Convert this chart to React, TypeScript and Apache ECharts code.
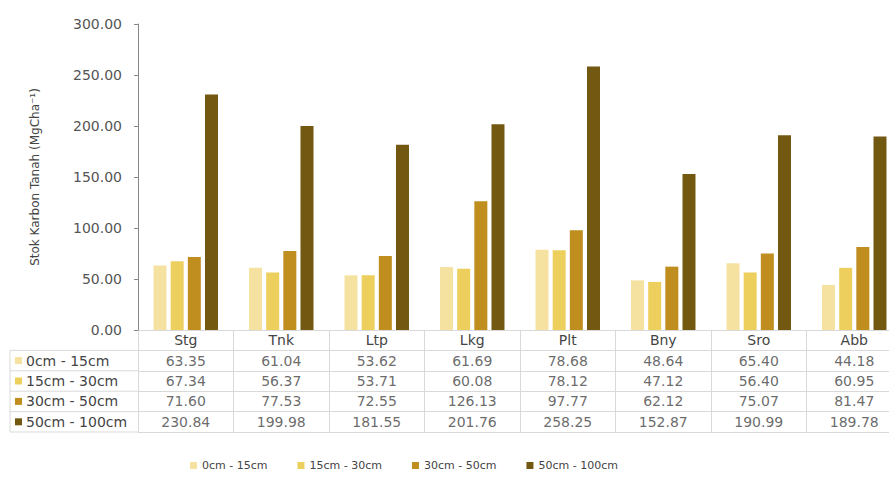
import React, { useEffect, useRef } from "react";
import * as echarts from "echarts";

const categories = ["Stg", "Tnk", "Ltp", "Lkg", "Plt", "Bny", "Sro", "Abb"];
const seriesNames = ["0cm - 15cm", "15cm - 30cm", "30cm - 50cm", "50cm - 100cm"];
const depth0_15 = [63.35, 61.04, 53.62, 61.69, 78.68, 48.64, 65.4, 44.18];
const depth15_30 = [67.34, 56.37, 53.71, 60.08, 78.12, 47.12, 56.4, 60.95];
const depth30_50 = [71.6, 77.53, 72.55, 126.13, 97.77, 62.12, 75.07, 81.47];
const depth50_100 = [230.84, 199.98, 181.55, 201.76, 258.25, 152.87, 190.99, 189.78];
const seriesValues = [depth0_15, depth15_30, depth30_50, depth50_100];
const colors = ["#F5E2A0", "#EDCF5E", "#BF8E1E", "#735812"];
const yTicks = { min: 0, max: 300, interval: 50 };

const FONT = "DejaVu Sans";
const TEXT = "#444";
const LINE = "#d9d9d9";

// layout
const VIEW_W = 889;
const VIEW_H = 485;
const CANVAS_W = 940;
const PLOT_LEFT = 138;
const PLOT_TOP = 24;
const PLOT_BOTTOM = 330;
const PLOT_WIDTH = 764;
const TABLE_HEIGHT = 102;
const TABLE_LEFT = 10;

export default function App() {
  const ref = useRef<HTMLDivElement>(null);
  useEffect(() => {
    if (!ref.current) return;
    const chart = echarts.init(ref.current, null, { renderer: "svg" });
    const rowNames = ["", ...seriesNames];
    const rowH = TABLE_HEIGHT / rowNames.length;

    const rich: any = {};
    seriesNames.forEach((_, i) => {
      rich["sq" + i] = { width: 7, height: 7, backgroundColor: colors[i] };
    });
    rich.t = { fontFamily: FONT, fontSize: 14, color: TEXT, padding: [0, 0, 0, 4] };

    const barSeries = seriesNames.map((name, i) => ({
      name,
      type: "bar",
      xAxisIndex: 0,
      yAxisIndex: 0,
      barWidth: 13,
      barGap: "32%",
      data: seriesValues[i],
      itemStyle: { color: colors[i] },
    }));

    const tableSeries = seriesNames.map((name, i) => ({
      name: "tbl-" + name,
      type: "scatter",
      xAxisIndex: 1,
      yAxisIndex: 1,
      symbolSize: 0,
      silent: true,
      data: seriesValues[i].map((v, c) => [c, i + 1, v]),
      label: {
        show: true,
        position: "inside",
        formatter: (p: any) => Number(p.value[2]).toFixed(2),
        fontFamily: FONT,
        fontSize: 14,
        color: TEXT,
      },
    }));

    const graphics: any[] = [];
    const firstRowTop = PLOT_BOTTOM + rowH;
    graphics.push({
      type: "line",
      shape: { x1: TABLE_LEFT, y1: firstRowTop, x2: TABLE_LEFT, y2: PLOT_BOTTOM + TABLE_HEIGHT },
      style: { stroke: LINE, lineWidth: 1 },
      silent: true,
    });
    for (let r = 1; r <= rowNames.length; r++) {
      const y = PLOT_BOTTOM + rowH * r;
      graphics.push({
        type: "line",
        shape: { x1: TABLE_LEFT, y1: y, x2: PLOT_LEFT, y2: y },
        style: { stroke: LINE, lineWidth: 1 },
        silent: true,
      });
    }

    chart.setOption({
      animation: false,
      backgroundColor: "#fff",
      textStyle: { fontFamily: FONT },
      grid: [
        { left: PLOT_LEFT, top: PLOT_TOP, width: PLOT_WIDTH, height: PLOT_BOTTOM - PLOT_TOP },
        { left: PLOT_LEFT, top: PLOT_BOTTOM, width: PLOT_WIDTH, height: TABLE_HEIGHT },
      ],
      xAxis: [
        {
          type: "category",
          gridIndex: 0,
          data: categories,
          axisLine: { show: false },
          axisTick: { show: false },
          axisLabel: { margin: 3, fontFamily: FONT, fontSize: 14, color: TEXT },
        },
        {
          type: "category",
          gridIndex: 1,
          data: categories,
          axisLine: { show: false },
          axisTick: { show: false },
          axisLabel: { show: false },
          splitLine: { show: true, interval: 0, lineStyle: { color: LINE, width: 1 } },
        },
      ],
      yAxis: [
        {
          type: "value",
          gridIndex: 0,
          min: yTicks.min,
          max: yTicks.max,
          interval: yTicks.interval,
          name: "Stok Karbon Tanah (MgCha⁻¹)",
          nameLocation: "middle",
          nameGap: 97,
          nameTextStyle: { fontFamily: FONT, fontSize: 12, color: TEXT },
          axisLine: { show: true, lineStyle: { color: "#888" } },
          axisTick: { show: true, length: 4, lineStyle: { color: "#888" } },
          splitLine: { show: false },
          axisLabel: {
            margin: 16,
            fontFamily: FONT,
            fontSize: 14,
            color: "#555",
            formatter: (v: number) => v.toFixed(2),
          },
        },
        {
          type: "category",
          gridIndex: 1,
          data: rowNames,
          inverse: true,
          axisLine: { show: false },
          axisTick: { show: false },
          splitLine: { show: true, interval: 0, lineStyle: { color: LINE, width: 1 } },
          axisLabel: {
            interval: 0,
            align: "left",
            margin: PLOT_LEFT - 15,
            formatter: (v: string, idx: number) => (idx === 0 ? "" : `{sq${idx - 1}|}{t|${v}}`),
            rich,
          },
        },
      ],
      legend: {
        data: seriesNames,
        top: 455,
        left: 185,
        icon: "rect",
        itemWidth: 7,
        itemHeight: 7,
        itemGap: 30,
        textStyle: { fontFamily: FONT, fontSize: 11, color: TEXT },
      },
      graphic: graphics,
      series: [...barSeries, ...tableSeries],
    });
    return () => chart.dispose();
  }, []);
  return (
    <div
      style={{
        position: "fixed",
        left: 0,
        top: 0,
        width: VIEW_W,
        height: VIEW_H,
        overflow: "hidden",
        background: "#fff",
      }}
    >
      <div ref={ref} style={{ width: CANVAS_W, height: VIEW_H }} />
    </div>
  );
}
